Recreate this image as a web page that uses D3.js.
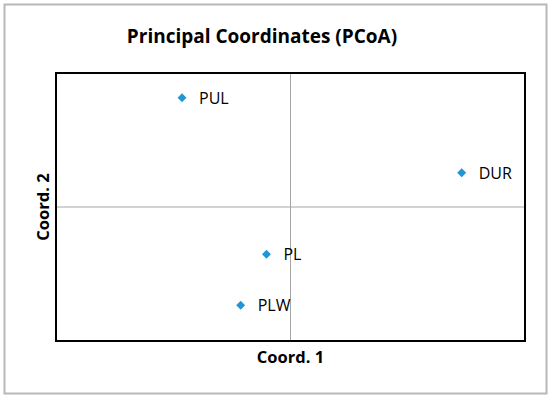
<!DOCTYPE html>
<html>
<head>
<meta charset="utf-8">
<title>PCoA</title>
<script src="https://d3js.org/d3.v7.min.js"></script>
<style>
  body { margin: 0; background: #fff; }
  text { font-family: "Open Sans", "Noto Sans", sans-serif; fill: #000; }
</style>
</head>
<body>
<svg id="chart" width="550" height="398"></svg>
<script>
// data
var sites = ["PUL", "DUR", "PL", "PLW"];
var coord1 = [-0.185, 0.292, -0.041, -0.085];
var coord2 = [0.326, 0.102, -0.141, -0.293];

var svg = d3.select("#chart");

// outer frame
svg.append("rect")
    .attr("x", 4.5).attr("y", 4.5)
    .attr("width", 542).attr("height", 389)
    .attr("fill", "#fff")
    .attr("stroke", "#b8b8b8")
    .attr("stroke-width", 2);

var plotL = 56, plotR = 525, plotT = 73, plotB = 341;

var x = d3.scaleLinear().domain([-0.4, 0.4]).range([plotL, plotR]);
var y = d3.scaleLinear().domain([-0.4, 0.4]).range([plotB, plotT]);

// zero lines
svg.append("line")
    .attr("x1", x(0)).attr("x2", x(0))
    .attr("y1", plotT).attr("y2", plotB)
    .attr("stroke", "#a6a6a6").attr("stroke-width", 1);
svg.append("line")
    .attr("x1", plotL).attr("x2", plotR)
    .attr("y1", y(0)).attr("y2", y(0))
    .attr("stroke", "#a6a6a6").attr("stroke-width", 1);

// plot box
svg.append("rect")
    .attr("x", plotL).attr("y", plotT)
    .attr("width", plotR - plotL).attr("height", plotB - plotT)
    .attr("fill", "none")
    .attr("stroke", "#000")
    .attr("stroke-width", 2);

var pts = sites.map(function(s, i) { return { name: s, c1: coord1[i], c2: coord2[i] }; });

// diamond markers
svg.selectAll(".pt")
  .data(pts)
  .enter().append("path")
    .attr("class", "pt")
    .attr("d", d3.symbol().type(d3.symbolSquare).size(40))
    .attr("transform", function(d) { return "translate(" + x(d.c1) + "," + y(d.c2) + ") rotate(45)"; })
    .attr("fill", "#1f96d8");

svg.selectAll(".lbl")
  .data(pts)
  .enter().append("text")
    .attr("class", "lbl")
    .attr("x", function(d) { return x(d.c1) + 17; })
    .attr("y", function(d) { return y(d.c2) + 6; })
    .style("font-size", "16px")
    .text(function(d) { return d.name; });

// title
svg.append("text")
    .attr("x", 262).attr("y", 43)
    .attr("text-anchor", "middle")
    .style("font-size", "19px")
    .style("font-weight", "bold")
    .text("Principal Coordinates (PCoA)");

// axis titles
svg.append("text")
    .attr("x", x(0)).attr("y", 363)
    .attr("text-anchor", "middle")
    .style("font-size", "16.5px")
    .style("font-weight", "bold")
    .text("Coord. 1");

svg.append("text")
    .attr("transform", "translate(49," + y(0) + ") rotate(-90)")
    .attr("text-anchor", "middle")
    .style("font-size", "16.5px")
    .style("font-weight", "bold")
    .text("Coord. 2");
</script>
</body>
</html>
